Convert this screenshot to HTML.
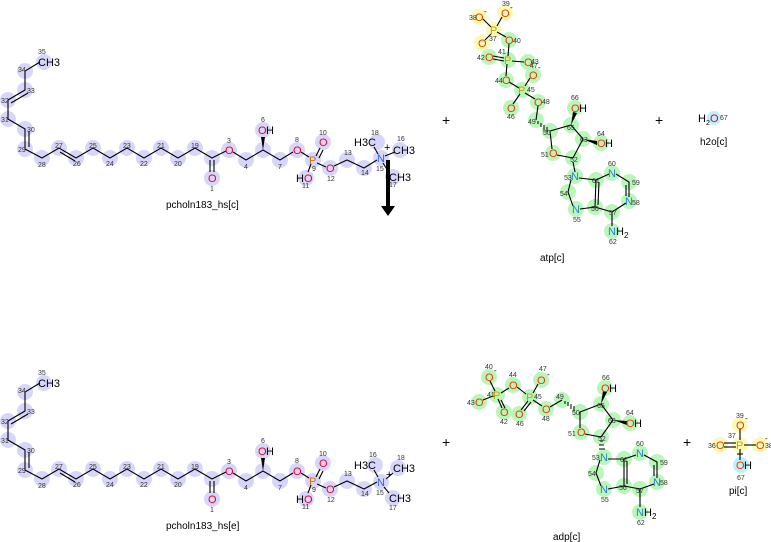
<!DOCTYPE html>
<html><head><meta charset="utf-8"><style>
body{margin:0;background:#fff}
svg{display:block}
text{font-family:"Liberation Sans","DejaVu Sans",sans-serif}
.n{font-size:7px;fill:#333}
.a{font-size:11px}
.O{fill:#e8002a}.Oa{fill:#e83a00}.P{fill:#d07000}.Pa{fill:#c8a000}.N{fill:#3060e0}.Na{fill:#2a80d0}
.l{font-size:10px;fill:#000}
.b{stroke:#000;stroke-width:1.1;fill:none}
</style></head><body>
<svg width="771" height="542" viewBox="0 0 771 542" xmlns="http://www.w3.org/2000/svg">
<!-- ============ TOP pcholn ============ -->
<g id="top">
<g fill="#d6d6fa">
<circle cx="44" cy="62" r="8"/><circle cx="25" cy="71" r="8"/><circle cx="25" cy="90" r="8"/><circle cx="8" cy="100" r="8"/><circle cx="8" cy="119" r="8"/><circle cx="25" cy="129" r="8"/><circle cx="25" cy="149" r="8"/><circle cx="42" cy="158" r="8"/><circle cx="59" cy="148" r="8"/><circle cx="76" cy="158" r="8"/><circle cx="93" cy="148" r="8"/><circle cx="110" cy="158" r="8"/><circle cx="127" cy="148" r="8"/><circle cx="144" cy="158" r="8"/><circle cx="161" cy="148" r="8"/><circle cx="178" cy="158" r="8"/><circle cx="195" cy="148" r="8"/><circle cx="212" cy="158" r="8"/><circle cx="212" cy="178" r="8"/><circle cx="229" cy="150" r="8"/><circle cx="246" cy="160" r="8"/><circle cx="263" cy="150" r="8"/><circle cx="263" cy="130" r="8"/><circle cx="280" cy="160" r="8"/><circle cx="297" cy="150" r="8"/><circle cx="313" cy="160" r="8"/><circle cx="323" cy="142" r="8"/><circle cx="306" cy="178" r="8"/><circle cx="330" cy="168" r="8"/><circle cx="347" cy="160" r="8"/><circle cx="364" cy="168" r="8"/><circle cx="381" cy="158" r="8"/><circle cx="377" cy="142" r="8"/><circle cx="400" cy="150" r="8"/><circle cx="393" cy="177" r="8"/>
</g>
<polyline class="b" points="40,62 25,71 25,90 8,100 8,119 25,129 25,149 42,158 59,148 76,158 93,148 110,158 127,148 144,158 161,148 178,158 195,148 212,158 226,151"/>
<line class="b" x1="28" y1="93" x2="11" y2="103"/><line class="b" x1="29" y1="131" x2="29" y2="147"/><line class="b" x1="60" y1="152" x2="75" y2="161"/>
<line class="b" x1="210" y1="160" x2="210" y2="172"/><line class="b" x1="214" y1="160" x2="214" y2="172"/>
<polyline class="b" points="233,152 246,160 263,150 280,160 293,152"/>
<polygon points="263,150 261,137 265,137" fill="#000"/>
<line class="b" x1="301" y1="152" x2="309" y2="157"/><line class="b" x1="316" y1="156" x2="320" y2="148"/><line class="b" x1="319" y1="158" x2="323" y2="150"/>
<line class="b" x1="311" y1="164" x2="308" y2="172"/><line class="b" x1="317" y1="163" x2="326" y2="167"/>
<polyline class="b" points="334,166 347,160 364,168 377,160"/>
<line class="b" x1="378" y1="154" x2="374" y2="147"/><line class="b" x1="385" y1="156" x2="395" y2="152"/><line class="b" x1="383" y1="163" x2="388" y2="171"/>
<text class="a" x="38" y="66">CH3</text><text class="a O" x="208" y="182">O</text><text class="a O" x="225" y="154">O</text>
<text class="a O" x="258" y="134">O</text><text class="a" x="266" y="134">H</text><text class="a O" x="293" y="154">O</text>
<text class="a P" x="309" y="164">P</text><text class="a O" x="319" y="146">O</text><text class="a" x="296" y="182">H</text><text class="a O" x="304" y="182">O</text>
<text class="a O" x="326" y="172">O</text><text class="a N" x="377" y="162">N</text><text class="a" x="354" y="146">H3C</text>
<text class="a" x="384" y="151">+</text><text class="a" x="393" y="154">CH3</text><text class="a" x="389" y="181">CH3</text>
<text class="n" x="38" y="54">35</text><text class="n" x="18" y="72">34</text><text class="n" x="27" y="93">33</text><text class="n" x="1" y="103">32</text><text class="n" x="1" y="122">31</text><text class="n" x="27" y="132">30</text><text class="n" x="18" y="152">29</text><text class="n" x="38" y="167">28</text><text class="n" x="55" y="148">27</text><text class="n" x="73" y="166">26</text><text class="n" x="89" y="148">25</text><text class="n" x="106" y="166">24</text><text class="n" x="123" y="148">23</text><text class="n" x="140" y="166">22</text><text class="n" x="157" y="148">21</text><text class="n" x="174" y="166">20</text><text class="n" x="191" y="148">19</text><text class="n" x="210" y="191">1</text><text class="n" x="227" y="143">3</text><text class="n" x="244" y="169">4</text><text class="n" x="261" y="122">6</text><text class="n" x="278" y="169">7</text><text class="n" x="295" y="142">8</text><text class="n" x="319" y="135">10</text><text class="n" x="312" y="171">9</text><text class="n" x="302" y="188">11</text><text class="n" x="327" y="181">12</text><text class="n" x="344" y="155">13</text><text class="n" x="361" y="175">14</text><text class="n" x="376" y="171">15</text><text class="n" x="397" y="141">16</text><text class="n" x="389" y="187">17</text><text class="n" x="371" y="135">18</text>
<text class="l" x="166" y="208">pcholn183_hs[c]</text>
</g>
<line x1="388" y1="160" x2="388" y2="208" stroke="#000" stroke-width="4"/><polygon points="381,206 395,206 388,216" fill="#000"/>
<!-- ============ BOTTOM pcholn ============ -->
<g transform="translate(0,321)">
<g fill="#d6d6fa">
<circle cx="44" cy="62" r="8"/><circle cx="25" cy="71" r="8"/><circle cx="25" cy="90" r="8"/><circle cx="8" cy="100" r="8"/><circle cx="8" cy="119" r="8"/><circle cx="25" cy="129" r="8"/><circle cx="25" cy="149" r="8"/><circle cx="42" cy="158" r="8"/><circle cx="59" cy="148" r="8"/><circle cx="76" cy="158" r="8"/><circle cx="93" cy="148" r="8"/><circle cx="110" cy="158" r="8"/><circle cx="127" cy="148" r="8"/><circle cx="144" cy="158" r="8"/><circle cx="161" cy="148" r="8"/><circle cx="178" cy="158" r="8"/><circle cx="195" cy="148" r="8"/><circle cx="212" cy="158" r="8"/><circle cx="212" cy="178" r="8"/><circle cx="229" cy="150" r="8"/><circle cx="246" cy="160" r="8"/><circle cx="263" cy="150" r="8"/><circle cx="263" cy="130" r="8"/><circle cx="280" cy="160" r="8"/><circle cx="297" cy="150" r="8"/><circle cx="313" cy="160" r="8"/><circle cx="323" cy="142" r="8"/><circle cx="306" cy="178" r="8"/><circle cx="330" cy="168" r="8"/><circle cx="347" cy="160" r="8"/><circle cx="364" cy="168" r="8"/><circle cx="381" cy="161" r="8"/><circle cx="375" cy="144" r="8"/><circle cx="398" cy="147" r="8"/><circle cx="393" cy="177" r="8"/>
</g>
<polyline class="b" points="40,62 25,71 25,90 8,100 8,119 25,129 25,149 42,158 59,148 76,158 93,148 110,158 127,148 144,158 161,148 178,158 195,148 212,158 226,151"/>
<line class="b" x1="28" y1="93" x2="11" y2="103"/><line class="b" x1="29" y1="131" x2="29" y2="147"/><line class="b" x1="60" y1="152" x2="75" y2="161"/>
<line class="b" x1="210" y1="160" x2="210" y2="172"/><line class="b" x1="214" y1="160" x2="214" y2="172"/>
<polyline class="b" points="233,152 246,160 263,150 280,160 293,152"/>
<polygon points="263,150 261,137 265,137" fill="#000"/>
<line class="b" x1="301" y1="152" x2="309" y2="157"/><line class="b" x1="316" y1="156" x2="320" y2="148"/><line class="b" x1="319" y1="158" x2="323" y2="150"/>
<line class="b" x1="311" y1="164" x2="308" y2="172"/><line class="b" x1="317" y1="163" x2="326" y2="167"/>
<polyline class="b" points="334,166 347,160 364,168 377,161"/>
<line class="b" x1="378" y1="156" x2="374" y2="149"/><line class="b" x1="386" y1="158" x2="393" y2="152"/><line class="b" x1="384" y1="166" x2="389" y2="172"/>
<text class="a" x="38" y="66">CH3</text><text class="a O" x="208" y="182">O</text><text class="a O" x="225" y="154">O</text>
<text class="a O" x="258" y="134">O</text><text class="a" x="266" y="134">H</text><text class="a O" x="293" y="154">O</text>
<text class="a P" x="309" y="164">P</text><text class="a O" x="319" y="146">O</text><text class="a" x="296" y="182">H</text><text class="a O" x="304" y="182">O</text>
<text class="a O" x="326" y="172">O</text><text class="a N" x="377" y="165">N</text><text class="a" x="354" y="148">H3C</text>
<text class="a" x="386" y="157">+</text><text class="a" x="393" y="151">CH3</text><text class="a" x="389" y="181">CH3</text>
<text class="n" x="38" y="54">35</text><text class="n" x="18" y="72">34</text><text class="n" x="27" y="93">33</text><text class="n" x="1" y="103">32</text><text class="n" x="1" y="122">31</text><text class="n" x="27" y="132">30</text><text class="n" x="18" y="152">29</text><text class="n" x="38" y="167">28</text><text class="n" x="55" y="148">27</text><text class="n" x="73" y="166">26</text><text class="n" x="89" y="148">25</text><text class="n" x="106" y="166">24</text><text class="n" x="123" y="148">23</text><text class="n" x="140" y="166">22</text><text class="n" x="157" y="148">21</text><text class="n" x="174" y="166">20</text><text class="n" x="191" y="148">19</text><text class="n" x="210" y="191">1</text><text class="n" x="227" y="143">3</text><text class="n" x="244" y="169">4</text><text class="n" x="261" y="122">6</text><text class="n" x="278" y="169">7</text><text class="n" x="295" y="142">8</text><text class="n" x="319" y="135">10</text><text class="n" x="312" y="171">9</text><text class="n" x="302" y="188">11</text><text class="n" x="327" y="181">12</text><text class="n" x="344" y="155">13</text><text class="n" x="361" y="175">14</text><text class="n" x="376" y="174">15</text><text class="n" x="369" y="136">16</text><text class="n" x="389" y="189">17</text><text class="n" x="397" y="139">18</text>
<text class="l" x="166" y="208">pcholn183_hs[e]</text>
</g>
<!-- plus signs -->
<text x="442" y="125" font-size="14">+</text><text x="655" y="125" font-size="14">+</text><text x="442" y="447" font-size="14">+</text><text x="683" y="447" font-size="14">+</text>
<!-- h2o -->
<circle cx="714" cy="118" r="7" fill="#bdf0f8"/>
<text class="a" x="698" y="122">H</text><text x="706" y="125" font-size="7">2</text><text class="a O" x="710" y="122">O</text><text class="n" x="720" y="120">67</text>
<text class="l" x="700" y="145">h2o[c]</text>
<!-- ============ ATP ============ -->
<g fill="#fafab4"><circle cx="479" cy="17" r="8"/><circle cx="505" cy="13" r="8"/><circle cx="494" cy="30" r="8"/><circle cx="482" cy="43" r="8"/></g>
<g fill="#b9f6b9"><circle cx="509" cy="40" r="8"/><circle cx="508" cy="60" r="8"/><circle cx="489" cy="57" r="8"/><circle cx="528" cy="62" r="8"/><circle cx="533" cy="75" r="8"/><circle cx="506" cy="80" r="8"/><circle cx="522" cy="90" r="8"/><circle cx="511" cy="108" r="8"/><circle cx="538" cy="102" r="8"/><circle cx="536" cy="120" r="8"/><circle cx="550" cy="131" r="8"/><circle cx="571" cy="125" r="8"/><circle cx="575" cy="108" r="8"/><circle cx="583" cy="139" r="8"/><circle cx="601" cy="143" r="8"/><circle cx="553" cy="153" r="8"/><circle cx="573" cy="158" r="8"/><circle cx="575" cy="176" r="8"/><circle cx="568" cy="192" r="8"/><circle cx="576" cy="209" r="8"/><circle cx="595" cy="207" r="8"/><circle cx="596" cy="180" r="8"/><circle cx="612" cy="173" r="8"/><circle cx="629" cy="182" r="8"/><circle cx="629" cy="201" r="8"/><circle cx="612" cy="212" r="8"/><circle cx="612" cy="231" r="8"/></g>
<g class="b">
<line x1="483" y1="19" x2="491" y2="27"/><line x1="502" y1="17" x2="497" y2="26"/><line x1="491" y1="34" x2="485" y2="40"/><line x1="497" y1="32" x2="506" y2="37"/>
<line x1="509" y1="44" x2="508" y2="56"/><line x1="493" y1="56" x2="504" y2="58"/><line x1="493" y1="59" x2="504" y2="61"/><line x1="512" y1="61" x2="524" y2="62"/>
<line x1="507" y1="64" x2="506" y2="76"/><line x1="509" y1="82" x2="519" y2="88"/><line x1="530" y1="78" x2="525" y2="86"/><line x1="520" y1="94" x2="513" y2="104"/><line x1="525" y1="93" x2="535" y2="99"/>
<polyline points="538,106 536,120"/><polyline points="550,131 571,125 583,139 573,158"/><line x1="550" y1="131" x2="552" y2="149"/><line x1="557" y1="155" x2="573" y2="158"/>
<line x1="573" y1="162" x2="575" y2="172"/>
<polyline points="579,178 596,180 595,207 580,209"/><polyline points="571,180 568,192 573,206"/><line x1="599" y1="182" x2="598" y2="205"/>
<polyline points="596,180 609,174"/><polyline points="616,174 629,182 629,197"/><line x1="626" y1="203" x2="612" y2="212"/><line x1="612" y1="212" x2="595" y2="207"/><line x1="612" y1="212" x2="612" y2="226"/>
<line x1="626" y1="185" x2="626" y2="196"/>
</g>
<polygon points="571,125 573,112 577,113" fill="#000"/><polygon points="583,139 597,141 597,145" fill="#000"/>
<g stroke="#000" stroke-width="1"><line x1="538" y1="121" x2="538" y2="124"/><line x1="541" y1="123" x2="541" y2="127"/><line x1="544" y1="125" x2="544" y2="130"/><line x1="547" y1="127" x2="547" y2="132"/></g>
<text class="a Oa" x="475" y="21">O</text><text x="484" y="14" font-size="8">-</text><text class="a Oa" x="501" y="17">O</text><text x="510" y="10" font-size="8">-</text>
<text class="a Pa" x="490" y="34">P</text><text class="a Oa" x="478" y="47">O</text><text class="a Oa" x="505" y="44">O</text>
<text class="a Pa" x="504" y="64">P</text><text class="a Oa" x="485" y="61">O</text><text class="a Oa" x="524" y="66">O</text><text class="a Oa" x="529" y="79">O</text><text x="538" y="70" font-size="8">-</text>
<text class="a Oa" x="502" y="84">O</text><text class="a Pa" x="518" y="94">P</text><text class="a Oa" x="507" y="112">O</text><text class="a Oa" x="534" y="106">O</text>
<text class="a Oa" x="571" y="112">O</text><text class="a" x="579" y="112">H</text><text class="a Oa" x="597" y="147">O</text><text class="a" x="605" y="147">H</text><text class="a Oa" x="549" y="157">O</text>
<text class="a Na" x="571" y="180">N</text><text class="a Na" x="572" y="213">N</text><text class="a Na" x="608" y="177">N</text><text class="a Na" x="625" y="205">N</text>
<text class="a Na" x="608" y="235">N</text><text class="a" x="616" y="235">H</text><text x="624" y="238" font-size="8">2</text>
<g class="n"><text x="469" y="20">38</text><text x="502" y="6">39</text><text x="489" y="41">37</text><text x="513" y="43">40</text><text x="498" y="54">41</text><text x="477" y="60">42</text><text x="531" y="64">43</text><text x="530" y="68">47</text><text x="495" y="83">44</text><text x="527" y="92">45</text><text x="507" y="119">46</text><text x="542" y="104">48</text><text x="528" y="124">49</text><text x="543" y="135">50</text><text x="567" y="130">65</text><text x="571" y="100">66</text><text x="580" y="142">63</text><text x="597" y="136">64</text><text x="541" y="157">51</text><text x="570" y="162">52</text><text x="564" y="180">53</text><text x="560" y="196">54</text><text x="573" y="222">55</text><text x="591" y="211">56</text><text x="592" y="183">61</text><text x="608" y="166">60</text><text x="632" y="185">59</text><text x="632" y="205">58</text><text x="609" y="215">57</text><text x="609" y="244">62</text></g>
<text class="l" x="540" y="261">atp[c]</text>
<!-- ============ ADP ============ -->
<g fill="#b9f6b9"><circle cx="489" cy="377" r="8"/><circle cx="497" cy="395" r="8"/><circle cx="479" cy="402" r="8"/><circle cx="504" cy="412" r="8"/><circle cx="513" cy="385" r="8"/><circle cx="530" cy="397" r="8"/><circle cx="519" cy="414" r="8"/><circle cx="541" cy="380" r="8"/><circle cx="546" cy="409" r="8"/><circle cx="562" cy="400" r="8"/><circle cx="580" cy="412" r="8"/><circle cx="601" cy="404" r="8"/><circle cx="605" cy="388" r="8"/><circle cx="613" cy="420" r="8"/><circle cx="630" cy="423" r="8"/><circle cx="581" cy="432" r="8"/><circle cx="601" cy="437" r="8"/><circle cx="604" cy="457" r="8"/><circle cx="596" cy="473" r="8"/><circle cx="604" cy="489" r="8"/><circle cx="624" cy="486" r="8"/><circle cx="624" cy="459" r="8"/><circle cx="640" cy="453" r="8"/><circle cx="657" cy="462" r="8"/><circle cx="657" cy="482" r="8"/><circle cx="640" cy="489" r="8"/><circle cx="640" cy="512" r="8"/></g>
<g class="b">
<line x1="490" y1="381" x2="495" y2="391"/><line x1="483" y1="400" x2="493" y2="396"/><line x1="498" y1="399" x2="502" y2="408"/><line x1="501" y1="400" x2="505" y2="408"/>
<line x1="501" y1="393" x2="509" y2="388"/><line x1="517" y1="387" x2="526" y2="394"/><line x1="528" y1="401" x2="521" y2="410"/><line x1="531" y1="402" x2="524" y2="411"/>
<line x1="533" y1="393" x2="538" y2="384"/><line x1="533" y1="400" x2="542" y2="406"/><line x1="550" y1="407" x2="562" y2="400"/>
<polyline points="580,412 601,404 613,420 601,437"/><line x1="580" y1="412" x2="580" y2="428"/><line x1="585" y1="434" x2="601" y2="437"/>
<polyline points="608,459 624,459 624,486 608,489"/><polyline points="600,460 596,473 601,486"/><line x1="627" y1="461" x2="627" y2="484"/>
<line x1="624" y1="459" x2="636" y2="455"/><polyline points="644,455 657,462 657,478"/><line x1="654" y1="484" x2="640" y2="489"/><line x1="640" y1="489" x2="624" y2="486"/><line x1="640" y1="489" x2="640" y2="507"/><line x1="654" y1="465" x2="654" y2="476"/>
</g>
<polygon points="601,404 603,391 607,392" fill="#000"/><polygon points="613,420 627,421 627,425" fill="#000"/>
<g stroke="#000" stroke-width="1"><line x1="565" y1="401" x2="565" y2="404"/><line x1="568" y1="402" x2="568" y2="406"/><line x1="571" y1="404" x2="571" y2="409"/><line x1="574" y1="406" x2="574" y2="411"/><line x1="600" y1="441" x2="603" y2="441"/><line x1="599" y1="445" x2="604" y2="445"/><line x1="599" y1="449" x2="605" y2="449"/></g>
<text class="a Oa" x="485" y="381">O</text><text x="494" y="373" font-size="8">-</text><text class="a Pa" x="493" y="399">P</text><text class="a Oa" x="475" y="406">O</text><text class="a Oa" x="500" y="416">O</text>
<text class="a Oa" x="509" y="389">O</text><text class="a Pa" x="526" y="401">P</text><text class="a Oa" x="515" y="418">O</text><text class="a Oa" x="537" y="384">O</text><text x="547" y="377" font-size="8">-</text><text class="a Oa" x="542" y="413">O</text>
<text class="a Oa" x="601" y="392">O</text><text class="a" x="609" y="392">H</text><text class="a Oa" x="626" y="427">O</text><text class="a" x="634" y="427">H</text><text class="a Oa" x="577" y="436">O</text>
<text class="a Na" x="600" y="461">N</text><text class="a Na" x="600" y="493">N</text><text class="a Na" x="636" y="457">N</text><text class="a Na" x="653" y="486">N</text>
<text class="a Na" x="636" y="516">N</text><text class="a" x="644" y="516">H</text><text x="652" y="519" font-size="8">2</text>
<g class="n"><text x="485" y="369">40</text><text x="487" y="397">41</text><text x="467" y="405">43</text><text x="500" y="424">42</text><text x="509" y="377">44</text><text x="534" y="399">45</text><text x="516" y="426">46</text><text x="539" y="371">47</text><text x="542" y="421">48</text><text x="556" y="399">49</text><text x="572" y="415">50</text><text x="597" y="408">65</text><text x="602" y="380">66</text><text x="608" y="423">63</text><text x="626" y="415">64</text><text x="568" y="436">51</text><text x="598" y="441">52</text><text x="592" y="460">53</text><text x="588" y="476">54</text><text x="601" y="502">55</text><text x="619" y="490">56</text><text x="620" y="462">61</text><text x="636" y="446">60</text><text x="660" y="465">59</text><text x="660" y="485">58</text><text x="636" y="493">57</text><text x="637" y="525">62</text></g>
<text class="l" x="553" y="540">adp[c]</text>
<!-- ============ Pi ============ -->
<g fill="#fafab4"><circle cx="740" cy="425" r="8"/><circle cx="740" cy="445" r="8"/><circle cx="720" cy="445" r="8"/><circle cx="760" cy="445" r="8"/></g>
<circle cx="741" cy="465" r="8" fill="#bdf0f8"/>
<g class="b"><line x1="740" y1="429" x2="740" y2="440"/><line x1="724" y1="443" x2="736" y2="443"/><line x1="724" y1="447" x2="736" y2="447"/><line x1="744" y1="445" x2="756" y2="445"/><line x1="740" y1="449" x2="740" y2="460"/><line x1="737" y1="454" x2="743" y2="454"/></g>
<text class="a Oa" x="736" y="429">O</text><text x="745" y="421" font-size="8">-</text><text class="a Pa" x="736" y="449">P</text><text class="a Oa" x="716" y="449">O</text><text class="a Oa" x="756" y="449">O</text><text x="765" y="441" font-size="8">-</text>
<text class="a Oa" x="736" y="469">O</text><text class="a" x="744" y="469">H</text>
<g class="n"><text x="736" y="418">39</text><text x="728" y="438">37</text><text x="708" y="448">36</text><text x="765" y="448">38</text><text x="737" y="480">67</text></g>
<text class="l" x="729" y="494">pi[c]</text>
</svg>
</body></html>
